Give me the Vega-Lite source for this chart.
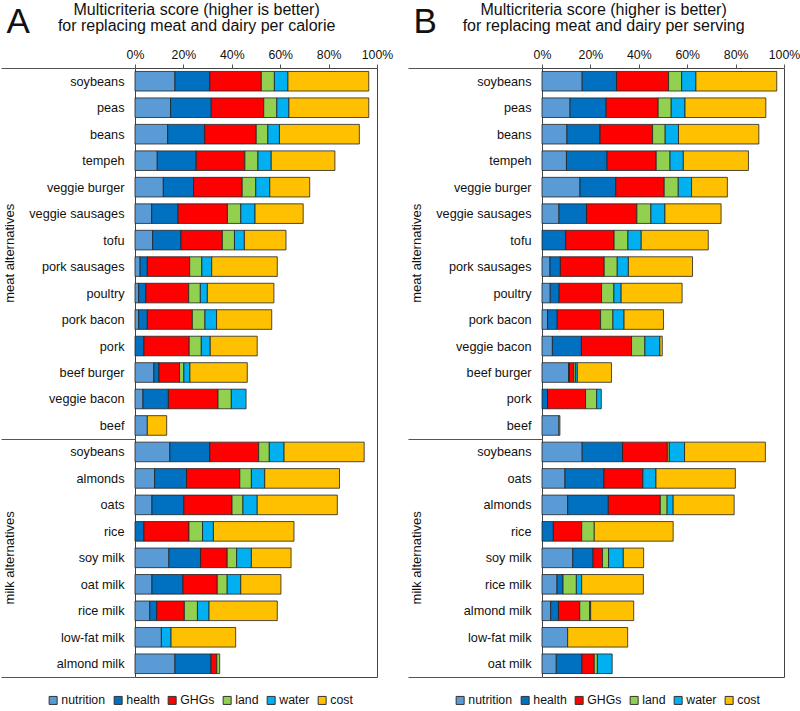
{
  "$schema": "https://vega.github.io/schema/vega-lite/v6.json",
  "padding": {"left": 0, "top": 1, "right": 0, "bottom": 0},
  "datasets": {
    "scores": [
      {"p": "A", "g": "meat alternatives", "i": "meat:soybeans", "r": 1, "nutrition": 16.5, "health": 14.4, "GHGs": 21.3, "land": 5.4, "water": 5.6, "cost": 33.4},
      {"p": "A", "g": "meat alternatives", "i": "meat:peas", "r": 2, "nutrition": 14.7, "health": 16.8, "GHGs": 21.7, "land": 5.4, "water": 5.0, "cost": 33.0},
      {"p": "A", "g": "meat alternatives", "i": "meat:beans", "r": 3, "nutrition": 13.5, "health": 15.3, "GHGs": 21.3, "land": 4.8, "water": 4.8, "cost": 33.0},
      {"p": "A", "g": "meat alternatives", "i": "meat:tempeh", "r": 4, "nutrition": 9.2, "health": 16.1, "GHGs": 20.1, "land": 5.4, "water": 5.5, "cost": 26.3},
      {"p": "A", "g": "meat alternatives", "i": "meat:veggie burger", "r": 5, "nutrition": 11.7, "health": 12.5, "GHGs": 20.1, "land": 5.6, "water": 5.8, "cost": 16.5},
      {"p": "A", "g": "meat alternatives", "i": "meat:veggie sausages", "r": 6, "nutrition": 6.9, "health": 10.9, "GHGs": 20.4, "land": 5.5, "water": 5.9, "cost": 19.9},
      {"p": "A", "g": "meat alternatives", "i": "meat:tofu", "r": 7, "nutrition": 7.3, "health": 11.7, "GHGs": 17.1, "land": 5.0, "water": 4.1, "cost": 17.2},
      {"p": "A", "g": "meat alternatives", "i": "meat:pork sausages", "r": 8, "nutrition": 2.1, "health": 3.0, "GHGs": 17.5, "land": 5.0, "water": 4.1, "cost": 27.1},
      {"p": "A", "g": "meat alternatives", "i": "meat:poultry", "r": 9, "nutrition": 1.5, "health": 3.0, "GHGs": 17.7, "land": 4.8, "water": 2.9, "cost": 27.5},
      {"p": "A", "g": "meat alternatives", "i": "meat:pork bacon", "r": 10, "nutrition": 1.5, "health": 3.6, "GHGs": 18.6, "land": 5.2, "water": 4.8, "cost": 22.8},
      {"p": "A", "g": "meat alternatives", "i": "meat:pork", "r": 11, "nutrition": 0, "health": 3.7, "GHGs": 18.7, "land": 5.0, "water": 3.7, "cost": 19.4},
      {"p": "A", "g": "meat alternatives", "i": "meat:beef burger", "r": 12, "nutrition": 7.8, "health": 2.1, "GHGs": 8.5, "land": 1.8, "water": 2.5, "cost": 23.7},
      {"p": "A", "g": "meat alternatives", "i": "meat:veggie bacon", "r": 13, "nutrition": 3.3, "health": 10.5, "GHGs": 20.5, "land": 5.5, "water": 6.1, "cost": 0},
      {"p": "A", "g": "meat alternatives", "i": "meat:beef", "r": 14, "nutrition": 5.1, "health": 0, "GHGs": 0, "land": 0, "water": 0, "cost": 8.0},
      {"p": "A", "g": "milk alternatives", "i": "milk:soybeans", "r": 15, "nutrition": 14.4, "health": 16.5, "GHGs": 20.2, "land": 4.4, "water": 6.1, "cost": 33.1},
      {"p": "A", "g": "milk alternatives", "i": "milk:almonds", "r": 16, "nutrition": 8.1, "health": 13.2, "GHGs": 22.0, "land": 4.8, "water": 5.5, "cost": 30.9},
      {"p": "A", "g": "milk alternatives", "i": "milk:oats", "r": 17, "nutrition": 7.0, "health": 13.2, "GHGs": 19.9, "land": 4.5, "water": 5.9, "cost": 33.1},
      {"p": "A", "g": "milk alternatives", "i": "milk:rice", "r": 18, "nutrition": 0, "health": 3.7, "GHGs": 18.6, "land": 5.6, "water": 4.5, "cost": 33.3},
      {"p": "A", "g": "milk alternatives", "i": "milk:soy milk", "r": 19, "nutrition": 14.0, "health": 13.1, "GHGs": 11.0, "land": 3.9, "water": 6.1, "cost": 16.4},
      {"p": "A", "g": "milk alternatives", "i": "milk:oat milk", "r": 20, "nutrition": 7.0, "health": 12.8, "GHGs": 14.2, "land": 4.1, "water": 5.6, "cost": 16.6},
      {"p": "A", "g": "milk alternatives", "i": "milk:rice milk", "r": 21, "nutrition": 6.1, "health": 2.9, "GHGs": 11.4, "land": 5.4, "water": 4.8, "cost": 28.2},
      {"p": "A", "g": "milk alternatives", "i": "milk:low-fat milk", "r": 22, "nutrition": 10.9, "health": 0, "GHGs": 0, "land": 0, "water": 4.0, "cost": 26.7},
      {"p": "A", "g": "milk alternatives", "i": "milk:almond milk", "r": 23, "nutrition": 16.5, "health": 14.9, "GHGs": 2.4, "land": 1.2, "water": 0, "cost": 0},
      {"p": "B", "g": "meat alternatives", "i": "meat:soybeans", "r": 1, "nutrition": 16.6, "health": 14.2, "GHGs": 21.5, "land": 5.4, "water": 5.9, "cost": 33.4},
      {"p": "B", "g": "meat alternatives", "i": "meat:peas", "r": 2, "nutrition": 11.6, "health": 14.9, "GHGs": 21.5, "land": 5.4, "water": 5.7, "cost": 33.4},
      {"p": "B", "g": "meat alternatives", "i": "meat:beans", "r": 3, "nutrition": 10.3, "health": 13.7, "GHGs": 21.7, "land": 5.2, "water": 5.5, "cost": 33.2},
      {"p": "B", "g": "meat alternatives", "i": "meat:tempeh", "r": 4, "nutrition": 10.1, "health": 16.8, "GHGs": 20.3, "land": 5.7, "water": 5.5, "cost": 26.9},
      {"p": "B", "g": "meat alternatives", "i": "meat:veggie burger", "r": 5, "nutrition": 15.7, "health": 14.8, "GHGs": 20.0, "land": 5.8, "water": 5.5, "cost": 14.8},
      {"p": "B", "g": "meat alternatives", "i": "meat:veggie sausages", "r": 6, "nutrition": 7.0, "health": 11.4, "GHGs": 20.8, "land": 5.8, "water": 5.8, "cost": 23.2},
      {"p": "B", "g": "meat alternatives", "i": "meat:tofu", "r": 7, "nutrition": 0, "health": 9.8, "GHGs": 20.0, "land": 5.7, "water": 5.5, "cost": 27.7},
      {"p": "B", "g": "meat alternatives", "i": "meat:pork sausages", "r": 8, "nutrition": 3.3, "health": 4.3, "GHGs": 18.1, "land": 5.4, "water": 4.6, "cost": 26.5},
      {"p": "B", "g": "meat alternatives", "i": "meat:poultry", "r": 9, "nutrition": 3.4, "health": 3.7, "GHGs": 17.5, "land": 5.1, "water": 3.0, "cost": 25.2},
      {"p": "B", "g": "meat alternatives", "i": "meat:pork bacon", "r": 10, "nutrition": 2.3, "health": 4.0, "GHGs": 17.9, "land": 5.1, "water": 4.6, "cost": 16.3},
      {"p": "B", "g": "meat alternatives", "i": "meat:veggie bacon", "r": 11, "nutrition": 4.3, "health": 12.0, "GHGs": 20.7, "land": 5.5, "water": 6.2, "cost": 1.0},
      {"p": "B", "g": "meat alternatives", "i": "meat:beef burger", "r": 12, "nutrition": 11.0, "health": 0.3, "GHGs": 1.8, "land": 0.7, "water": 0.8, "cost": 14.1},
      {"p": "B", "g": "meat alternatives", "i": "meat:pork", "r": 13, "nutrition": 0, "health": 2.3, "GHGs": 15.7, "land": 4.6, "water": 1.9, "cost": 0},
      {"p": "B", "g": "meat alternatives", "i": "meat:beef", "r": 14, "nutrition": 7.0, "health": 0, "GHGs": 0, "land": 0, "water": 0, "cost": 0.4},
      {"p": "B", "g": "milk alternatives", "i": "milk:soybeans", "r": 15, "nutrition": 16.6, "health": 16.7, "GHGs": 18.5, "land": 0.8, "water": 6.3, "cost": 33.4},
      {"p": "B", "g": "milk alternatives", "i": "milk:oats", "r": 16, "nutrition": 9.5, "health": 16.1, "GHGs": 16.1, "land": 0, "water": 5.4, "cost": 32.8},
      {"p": "B", "g": "milk alternatives", "i": "milk:almonds", "r": 17, "nutrition": 10.6, "health": 16.8, "GHGs": 21.5, "land": 2.8, "water": 2.5, "cost": 25.2},
      {"p": "B", "g": "milk alternatives", "i": "milk:rice", "r": 18, "nutrition": 0, "health": 4.7, "GHGs": 11.7, "land": 5.2, "water": 0, "cost": 32.6},
      {"p": "B", "g": "milk alternatives", "i": "milk:soy milk", "r": 19, "nutrition": 12.7, "health": 8.4, "GHGs": 3.9, "land": 2.5, "water": 6.1, "cost": 8.4},
      {"p": "B", "g": "milk alternatives", "i": "milk:rice milk", "r": 20, "nutrition": 6.2, "health": 2.5, "GHGs": 0, "land": 5.5, "water": 2.2, "cost": 25.5},
      {"p": "B", "g": "milk alternatives", "i": "milk:almond milk", "r": 21, "nutrition": 3.6, "health": 3.2, "GHGs": 8.8, "land": 4.1, "water": 0.4, "cost": 17.8},
      {"p": "B", "g": "milk alternatives", "i": "milk:low-fat milk", "r": 22, "nutrition": 10.6, "health": 0, "GHGs": 0, "land": 0, "water": 0, "cost": 24.8},
      {"p": "B", "g": "milk alternatives", "i": "milk:oat milk", "r": 23, "nutrition": 5.9, "health": 10.6, "GHGs": 5.1, "land": 1.3, "water": 6.1, "cost": 0}
    ],
    "comp": [
      {"c": "nutrition", "k": 1},
      {"c": "health", "k": 2},
      {"c": "GHGs", "k": 3},
      {"c": "land", "k": 4},
      {"c": "water", "k": 5},
      {"c": "cost", "k": 6}
    ]
  },
  "data": {"name": "scores"},
  "spacing": 13,
  "resolve": {"legend": {"color": "independent"}},
  "hconcat": [
    {
      "title": {"text": ["Multicriteria score (higher is better)", "for replacing meat and dairy per calorie"]},
      "width": 242,
      "height": 609,
      "transform": [{"filter": "datum.p == 'A'"}],
      "layer": [
        {
          "transform": [
            {"fold": ["nutrition", "health", "GHGs", "land", "water", "cost"], "as": ["c", "v"]},
            {"filter": "datum.v > 0"},
            {"lookup": "c", "from": {"data": {"name": "comp"}, "key": "c", "fields": ["k"]}}
          ],
          "mark": {"type": "bar", "height": {"band": 0.74}, "stroke": "#222", "strokeWidth": 0.8},
          "encoding": {
            "y": {
              "field": "i", "type": "nominal",
              "sort": {"field": "r", "op": "min", "order": "ascending"},
              "scale": {"paddingInner": 0, "paddingOuter": 0},
              "axis": {
                "title": null, "domain": false, "tickBand": "extent", "tickSize": 134, "tickWidth": 1,
                "tickColor": {"condition": {"test": "datum.extra || datum.value == 'meat:beef' || datum.value == 'milk:almond milk'", "value": "#555"}, "value": "transparent"},
                "labelPadding": -123, "labelFontSize": 12.7,
                "labelExpr": "datum.value ? split(datum.value, ':')[1] : ''"
              }
            },
            "x": {
              "field": "v", "type": "quantitative", "stack": "zero",
              "scale": {"domain": [0, 100], "nice": false},
              "axis": {
                "orient": "top", "values": [0, 20, 40, 60, 80, 100], "labelExpr": "datum.value + '%'", "labelFlush": false,
                "domain": false, "grid": false, "tickSize": 4, "tickColor": "#555", "labelPadding": 3, "labelFontSize": 12.3,
                "title": "A", "titleFontSize": 35, "titleFontWeight": "normal", "titleAlign": "left", "titleBaseline": "alphabetic",
                "titleX": -129, "titleY": -36
              }
            },
            "color": {
              "field": "c", "type": "nominal",
              "scale": {"domain": ["nutrition", "health", "GHGs", "land", "water", "cost"], "range": ["#5B9BD5", "#0070C0", "#FF0000", "#92D050", "#00B0F0", "#FFC000"]},
              "legend": {"orient": "none", "legendX": -88, "legendY": 626, "direction": "horizontal", "title": null}
            },
            "order": {"field": "k", "type": "quantitative"}
          }
        },
        {
          "transform": [{"filter": "datum.i == 'meat:pork sausages'"}],
          "mark": {"type": "text", "angle": 270, "fontSize": 13, "color": "#111", "baseline": "middle", "align": "center"},
          "encoding": {
            "y": {"field": "i", "type": "nominal", "sort": {"field": "r", "op": "min", "order": "ascending"}, "bandPosition": 0},
            "x": {"datum": -51.6, "type": "quantitative"},
            "text": {"field": "g"}
          }
        },
        {
          "transform": [{"filter": "datum.i == 'milk:soy milk'"}],
          "mark": {"type": "text", "angle": 270, "fontSize": 13, "color": "#111", "baseline": "middle", "align": "center"},
          "encoding": {
            "y": {"field": "i", "type": "nominal", "sort": {"field": "r", "op": "min", "order": "ascending"}},
            "x": {"datum": -51.6, "type": "quantitative"},
            "text": {"field": "g"}
          }
        }
      ]
    },
    {
      "title": {"text": ["Multicriteria score (higher is better)", "for replacing meat and dairy per serving"]},
      "width": 242,
      "height": 609,
      "transform": [{"filter": "datum.p == 'B'"}],
      "layer": [
        {
          "transform": [
            {"fold": ["nutrition", "health", "GHGs", "land", "water", "cost"], "as": ["c", "v"]},
            {"filter": "datum.v > 0"},
            {"lookup": "c", "from": {"data": {"name": "comp"}, "key": "c", "fields": ["k"]}}
          ],
          "mark": {"type": "bar", "height": {"band": 0.74}, "stroke": "#222", "strokeWidth": 0.8},
          "encoding": {
            "y": {
              "field": "i", "type": "nominal",
              "sort": {"field": "r", "op": "min", "order": "ascending"},
              "scale": {"paddingInner": 0, "paddingOuter": 0},
              "axis": {
                "title": null, "domain": false, "tickBand": "extent", "tickSize": 134, "tickWidth": 1,
                "tickColor": {"condition": {"test": "datum.extra || datum.value == 'meat:beef' || datum.value == 'milk:oat milk'", "value": "#555"}, "value": "transparent"},
                "labelPadding": -123, "labelFontSize": 12.7,
                "labelExpr": "datum.value ? split(datum.value, ':')[1] : ''"
              }
            },
            "x": {
              "field": "v", "type": "quantitative", "stack": "zero",
              "scale": {"domain": [0, 100], "nice": false},
              "axis": {
                "orient": "top", "values": [0, 20, 40, 60, 80, 100], "labelExpr": "datum.value + '%'", "labelFlush": false,
                "domain": false, "grid": false, "tickSize": 4, "tickColor": "#555", "labelPadding": 3, "labelFontSize": 12.3,
                "title": "B", "titleFontSize": 35, "titleFontWeight": "normal", "titleAlign": "left", "titleBaseline": "alphabetic",
                "titleX": -129, "titleY": -36
              }
            },
            "color": {
              "field": "c", "type": "nominal",
              "scale": {"domain": ["nutrition", "health", "GHGs", "land", "water", "cost"], "range": ["#5B9BD5", "#0070C0", "#FF0000", "#92D050", "#00B0F0", "#FFC000"]},
              "legend": {"orient": "none", "legendX": -88, "legendY": 626, "direction": "horizontal", "title": null}
            },
            "order": {"field": "k", "type": "quantitative"}
          }
        },
        {
          "transform": [{"filter": "datum.i == 'meat:pork sausages'"}],
          "mark": {"type": "text", "angle": 270, "fontSize": 13, "color": "#111", "baseline": "middle", "align": "center"},
          "encoding": {
            "y": {"field": "i", "type": "nominal", "sort": {"field": "r", "op": "min", "order": "ascending"}, "bandPosition": 0},
            "x": {"datum": -51.6, "type": "quantitative"},
            "text": {"field": "g"}
          }
        },
        {
          "transform": [{"filter": "datum.i == 'milk:soy milk'"}],
          "mark": {"type": "text", "angle": 270, "fontSize": 13, "color": "#111", "baseline": "middle", "align": "center"},
          "encoding": {
            "y": {"field": "i", "type": "nominal", "sort": {"field": "r", "op": "min", "order": "ascending"}},
            "x": {"datum": -51.6, "type": "quantitative"},
            "text": {"field": "g"}
          }
        }
      ]
    }
  ],
  "config": {
    "font": "Liberation Sans",
    "view": {"stroke": "#444", "strokeWidth": 1},
    "axis": {"labelColor": "#111", "titleColor": "#111"},
    "text": {"font": "Liberation Sans"},
    "title": {"fontSize": 16, "fontWeight": "normal", "color": "#111", "anchor": "middle", "frame": "bounds", "lineHeight": 16.5, "offset": -30},
    "legend": {
      "symbolType": "square", "symbolSize": 64, "symbolStrokeColor": "#333", "symbolStrokeWidth": 1, "symbolOpacity": 1,
      "labelFontSize": 12.3, "labelColor": "#111", "labelOffset": 2, "columnPadding": 6
    }
  }
}
